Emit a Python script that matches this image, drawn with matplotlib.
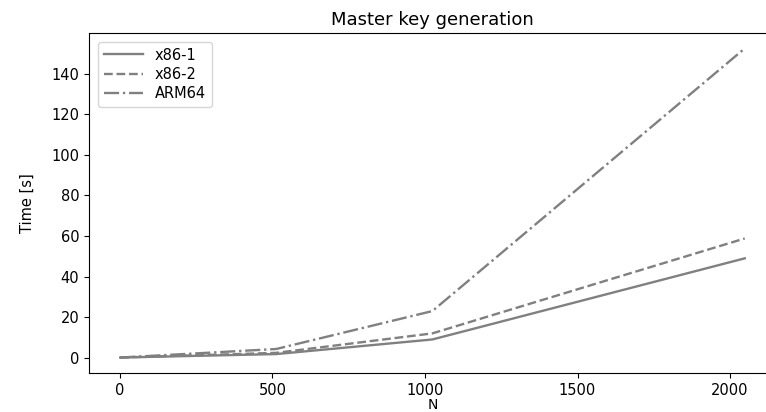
import numpy as np
import matplotlib
matplotlib.use('Agg')
import matplotlib.pyplot as plt

#Problem sizes and timings (seconds)
n_values = [1, 512, 1024, 2048]
x86_1 = [0.1, 1.8, 9.0, 49.0]
x86_2 = [0.1, 2.4, 12.0, 58.8]
arm64 = [0.1, 4.3, 23.0, 152.5]

fig = plt.figure(figsize=(7.66, 4.12), dpi=100)
ax = fig.add_axes([0.1162, 0.0947, 0.8968, 0.8253])

ax.plot(n_values, x86_1, color='gray', linestyle='-', linewidth=1.7, label='x86-1')
ax.plot(n_values, x86_2, color='gray', linestyle='--', linewidth=1.7, label='x86-2')
ax.plot(n_values, arm64, color='gray', linestyle='-.', linewidth=1.7, label='ARM64')

#the reference is cropped on the right, so no right spine shows
ax.spines['right'].set_visible(False)

ax.set_title('Master key generation', fontsize=13)
ax.set_xlabel('N', fontsize=10, labelpad=0)
ax.set_ylabel('Time [s]', fontsize=10.5, labelpad=12)
ax.tick_params(labelsize=10.5)
ax.set_yticks(np.arange(0, 141, 20))
ax.legend(loc='upper left', fontsize=10.5, handlelength=2.7, labelspacing=0.3,
          borderaxespad=0.6)

fig.savefig('out.png', dpi=100)
